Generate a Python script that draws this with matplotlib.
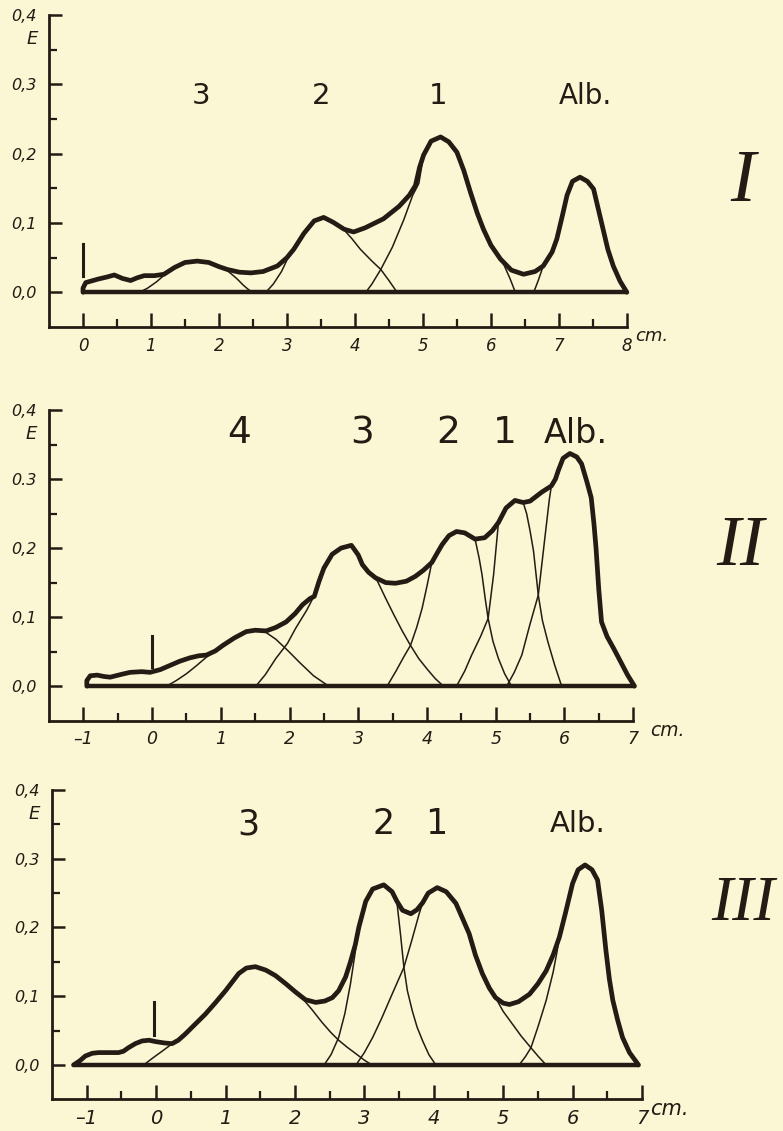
import matplotlib
matplotlib.use("Agg")
import matplotlib.pyplot as plt

BG = "#fbf6d3"
INK = "#241b14"

# ---------- panel I : total curve and components (cm, E) ----------
p1_x = [0.00, 0.00, 0.04, 0.22, 0.35, 0.46, 0.58, 0.70, 0.80, 0.90, 1.05, 1.19, 1.35, 1.50,
        1.68, 1.85, 2.00, 2.12, 2.30, 2.47, 2.65, 2.86, 3.00, 3.10, 3.25, 3.40, 3.54, 3.68,
        3.84, 3.98, 4.15, 4.42, 4.65, 4.80, 4.89, 4.95, 5.01, 5.12, 5.26, 5.38, 5.50, 5.60,
        5.70, 5.80, 5.89, 6.00, 6.14, 6.30, 6.48, 6.65, 6.77, 6.90, 6.97, 7.05, 7.12, 7.20,
        7.31, 7.42, 7.51, 7.58, 7.65, 7.72, 7.80, 7.90, 8.00]
p1_y = [0.000, 0.006, 0.014, 0.019, 0.022, 0.025, 0.020, 0.017, 0.021, 0.024, 0.024, 0.026,
        0.036, 0.043, 0.045, 0.043, 0.037, 0.033, 0.029, 0.028, 0.030, 0.038, 0.050, 0.062,
        0.085, 0.103, 0.108, 0.101, 0.091, 0.087, 0.093, 0.106, 0.124, 0.140, 0.154, 0.180,
        0.198, 0.218, 0.224, 0.217, 0.202, 0.176, 0.144, 0.114, 0.091, 0.068, 0.048, 0.032,
        0.026, 0.030, 0.038, 0.058, 0.077, 0.110, 0.140, 0.160, 0.166, 0.160, 0.149, 0.120,
        0.091, 0.062, 0.038, 0.016, 0.000]

p1_c3_x = [0.83, 0.95, 1.08, 1.21, 1.35, 1.50, 1.68, 1.85, 2.00, 2.10, 2.20, 2.27, 2.35, 2.42, 2.49]
p1_c3_y = [0.000, 0.006, 0.015, 0.026, 0.036, 0.043, 0.045, 0.043, 0.037, 0.033, 0.025, 0.019, 0.011, 0.005, 0.000]
p1_c2_x = [2.69, 2.80, 2.92, 3.05, 3.25, 3.40, 3.54, 3.68, 3.84, 3.95, 4.08, 4.25, 4.38, 4.50, 4.62]
p1_c2_y = [0.000, 0.012, 0.030, 0.057, 0.085, 0.103, 0.108, 0.101, 0.090, 0.078, 0.062, 0.045, 0.033, 0.017, 0.000]
p1_c1_x = [4.16, 4.25, 4.38, 4.55, 4.72, 4.85, 4.94, 5.01, 5.12, 5.26, 5.38, 5.50, 5.60, 5.70,
           5.80, 5.89, 6.00, 6.10, 6.19, 6.28, 6.36]
p1_c1_y = [0.000, 0.012, 0.033, 0.065, 0.105, 0.140, 0.157, 0.198, 0.218, 0.224, 0.217, 0.202,
           0.176, 0.144, 0.114, 0.091, 0.068, 0.052, 0.040, 0.020, 0.000]
p1_ca_x = [6.63, 6.70, 6.77, 6.90, 6.97, 7.05, 7.12, 7.20, 7.31, 7.42, 7.51, 7.58, 7.65, 7.72, 7.80, 7.90, 8.00]
p1_ca_y = [0.000, 0.018, 0.038, 0.058, 0.077, 0.110, 0.140, 0.160, 0.166, 0.160, 0.149, 0.120,
           0.091, 0.062, 0.038, 0.016, 0.000]

p1_labels = ["3", "2", "1", "Alb."]
p1_label_x = [1.73, 3.50, 5.23, 7.39]
p1_start = [0.0, 0.024, 0.070]

# ---------- panel II ----------
p2_x = [-0.95, -0.95, -0.90, -0.80, -0.70, -0.61, -0.45, -0.32, -0.15, -0.03, 0.12, 0.26, 0.40,
        0.55, 0.68, 0.79, 0.92, 1.03, 1.20, 1.37, 1.50, 1.66, 1.80, 1.95, 2.08, 2.19, 2.30,
        2.36, 2.43, 2.50, 2.62, 2.75, 2.90, 3.00, 3.06, 3.15, 3.25, 3.40, 3.54, 3.70, 3.83,
        3.95, 4.07, 4.15, 4.22, 4.32, 4.43, 4.55, 4.70, 4.84, 4.95, 5.04, 5.15, 5.28, 5.40,
        5.50, 5.67, 5.81, 5.87, 5.91, 5.98, 6.08, 6.18, 6.25, 6.33, 6.39, 6.43, 6.46, 6.50,
        6.54, 6.62, 6.72, 6.82, 6.92, 7.02]
p2_y = [0.000, 0.008, 0.015, 0.016, 0.014, 0.013, 0.017, 0.020, 0.021, 0.020, 0.024, 0.030,
        0.036, 0.041, 0.044, 0.045, 0.051, 0.059, 0.070, 0.079, 0.081, 0.080, 0.085, 0.093,
        0.105, 0.118, 0.127, 0.130, 0.152, 0.171, 0.191, 0.200, 0.204, 0.190, 0.176, 0.165,
        0.157, 0.150, 0.149, 0.152, 0.159, 0.168, 0.179, 0.193, 0.205, 0.218, 0.224, 0.222,
        0.213, 0.215, 0.225, 0.237, 0.258, 0.269, 0.266, 0.268, 0.281, 0.290, 0.300, 0.312,
        0.330, 0.337, 0.332, 0.322, 0.295, 0.273, 0.235, 0.200, 0.140, 0.093, 0.072, 0.054,
        0.035, 0.016, 0.000]

p2_c4_x = [0.21, 0.35, 0.50, 0.65, 0.79, 0.92, 1.03, 1.20, 1.37, 1.50, 1.64, 1.80, 1.97, 2.15, 2.35, 2.57]
p2_c4_y = [0.000, 0.008, 0.018, 0.030, 0.042, 0.051, 0.059, 0.070, 0.079, 0.081, 0.079, 0.068,
           0.052, 0.034, 0.015, 0.000]
p2_c3_x = [1.51, 1.65, 1.80, 1.97, 2.09, 2.25, 2.38, 2.43, 2.50, 2.62, 2.75, 2.90, 3.00, 3.06,
           3.15, 3.28, 3.40, 3.52, 3.64, 3.76, 3.88, 4.00, 4.12, 4.24]
p2_c3_y = [0.000, 0.017, 0.040, 0.062, 0.084, 0.110, 0.135, 0.152, 0.171, 0.191, 0.200, 0.204,
           0.190, 0.176, 0.165, 0.152, 0.127, 0.103, 0.080, 0.059, 0.040, 0.025, 0.011, 0.000]
p2_c2_x = [3.42, 3.55, 3.66, 3.76, 3.85, 3.93, 4.00, 4.07, 4.15, 4.22, 4.32, 4.43, 4.55, 4.70,
           4.76, 4.80, 4.85, 4.89, 4.96, 5.04, 5.13, 5.23]
p2_c2_y = [0.000, 0.022, 0.042, 0.059, 0.085, 0.113, 0.145, 0.179, 0.193, 0.205, 0.218, 0.224,
           0.222, 0.213, 0.185, 0.162, 0.125, 0.098, 0.065, 0.040, 0.018, 0.000]
p2_c1_x = [4.43, 4.55, 4.65, 4.78, 4.89, 4.97, 5.04, 5.15, 5.28, 5.40, 5.45, 5.50, 5.55, 5.62,
           5.68, 5.76, 5.86, 5.96]
p2_c1_y = [0.000, 0.022, 0.045, 0.072, 0.098, 0.162, 0.237, 0.258, 0.269, 0.266, 0.250, 0.225,
           0.196, 0.132, 0.095, 0.064, 0.030, 0.000]
p2_ca_x = [5.16, 5.27, 5.38, 5.50, 5.62, 5.71, 5.78, 5.81, 5.87, 5.91, 5.98, 6.08, 6.18, 6.25,
           6.33, 6.39, 6.43, 6.46, 6.50, 6.54, 6.62, 6.72, 6.82, 6.92, 7.02]
p2_ca_y = [0.000, 0.020, 0.045, 0.090, 0.132, 0.210, 0.270, 0.290, 0.300, 0.312, 0.330, 0.337,
           0.332, 0.322, 0.295, 0.273, 0.235, 0.200, 0.140, 0.093, 0.072, 0.054, 0.035, 0.016, 0.000]

p2_labels = ["4", "3", "2", "1", "Alb."]
p2_label_x = [1.27, 3.06, 4.31, 5.13, 6.17]
p2_start = [0.0, 0.028, 0.072]

# ---------- panel III ----------
p3_x = [-1.19, -1.10, -1.02, -0.92, -0.83, -0.70, -0.54, -0.47, -0.40, -0.30, -0.20, -0.10,
        -0.01, 0.12, 0.23, 0.32, 0.42, 0.55, 0.71, 0.85, 1.00, 1.19, 1.30, 1.43, 1.58, 1.72,
        1.87, 2.01, 2.15, 2.30, 2.43, 2.54, 2.63, 2.73, 2.80, 2.87, 2.92, 3.02, 3.12, 3.28,
        3.40, 3.47, 3.55, 3.67, 3.76, 3.84, 3.92, 4.05, 4.18, 4.32, 4.42, 4.51, 4.60, 4.70,
        4.80, 4.89, 5.00, 5.09, 5.22, 5.38, 5.50, 5.62, 5.72, 5.81, 5.90, 6.00, 6.08, 6.18,
        6.28, 6.36, 6.42, 6.48, 6.53, 6.58, 6.65, 6.72, 6.82, 6.95]
p3_y = [0.000, 0.006, 0.013, 0.017, 0.018, 0.018, 0.018, 0.020, 0.025, 0.031, 0.035, 0.036,
        0.034, 0.032, 0.031, 0.036, 0.045, 0.058, 0.074, 0.090, 0.108, 0.133, 0.141, 0.143,
        0.138, 0.130, 0.118, 0.106, 0.095, 0.091, 0.093, 0.098, 0.108, 0.128, 0.150, 0.175,
        0.200, 0.238, 0.256, 0.262, 0.252, 0.238, 0.225, 0.220, 0.226, 0.236, 0.250, 0.258,
        0.252, 0.235, 0.212, 0.191, 0.160, 0.133, 0.112, 0.098, 0.090, 0.088, 0.092, 0.103,
        0.118, 0.137, 0.160, 0.186, 0.222, 0.264, 0.284, 0.291, 0.284, 0.269, 0.225, 0.167,
        0.125, 0.094, 0.065, 0.040, 0.018, 0.000]

p3_c3_x = [-0.18, -0.05, 0.10, 0.22, 0.32, 0.42, 0.55, 0.71, 0.85, 1.00, 1.19, 1.30, 1.43, 1.58,
           1.72, 1.87, 2.01, 2.10, 2.25, 2.39, 2.52, 2.63, 2.75, 2.87, 3.00, 3.11]
p3_c3_y = [0.000, 0.010, 0.021, 0.030, 0.036, 0.045, 0.058, 0.074, 0.090, 0.108, 0.133, 0.141,
           0.143, 0.138, 0.130, 0.118, 0.106, 0.098, 0.080, 0.062, 0.047, 0.036, 0.026, 0.017,
           0.007, 0.000]
p3_c2_x = [2.42, 2.52, 2.63, 2.72, 2.80, 2.87, 2.92, 3.02, 3.12, 3.28, 3.40, 3.47, 3.52, 3.57,
           3.62, 3.69, 3.76, 3.84, 3.93, 4.03]
p3_c2_y = [0.000, 0.015, 0.040, 0.075, 0.118, 0.165, 0.200, 0.238, 0.256, 0.262, 0.252, 0.236,
           0.191, 0.142, 0.108, 0.079, 0.055, 0.035, 0.015, 0.000]
p3_c1_x = [2.88, 3.00, 3.12, 3.25, 3.40, 3.57, 3.68, 3.79, 3.84, 3.92, 4.05, 4.18, 4.32, 4.42,
           4.51, 4.60, 4.70, 4.80, 4.89, 5.00, 5.13, 5.26, 5.40, 5.51, 5.62]
p3_c1_y = [0.000, 0.018, 0.040, 0.068, 0.103, 0.142, 0.180, 0.220, 0.236, 0.250, 0.258, 0.252,
           0.235, 0.212, 0.191, 0.160, 0.133, 0.112, 0.098, 0.078, 0.060, 0.042, 0.025, 0.012, 0.000]
p3_ca_x = [5.23, 5.32, 5.40, 5.50, 5.62, 5.72, 5.78, 5.81, 5.90, 6.00, 6.08, 6.18, 6.28, 6.36,
           6.42, 6.48, 6.53, 6.58, 6.65, 6.72, 6.82, 6.95]
p3_ca_y = [0.000, 0.012, 0.025, 0.055, 0.094, 0.135, 0.167, 0.186, 0.222, 0.264, 0.284, 0.291,
           0.284, 0.269, 0.225, 0.167, 0.125, 0.094, 0.065, 0.040, 0.018, 0.000]

p3_labels = ["3", "2", "1", "Alb."]
p3_label_x = [1.33, 3.27, 4.03, 6.07]
p3_start = [-0.03, 0.043, 0.091]

y_ticks = [0.0, 0.1, 0.2, 0.3, 0.4]
y_minor = [0.05, 0.15, 0.25, 0.35]


def draw_panel(ax, xlim, xticks, curve, comps, labels, label_x, label_y, label_size,
               alb_size, start, ylabels, unit, unit_x, xl_size):
    ax.set_facecolor(BG)
    ax.set_xlim(*xlim)
    ax.set_ylim(-0.05, 0.4)
    for sp in ["top", "right"]:
        ax.spines[sp].set_visible(False)
    for sp in ["left", "bottom"]:
        ax.spines[sp].set_linewidth(2.0)
        ax.spines[sp].set_color(INK)

    ax.set_yticks(y_ticks)
    ax.set_yticklabels(ylabels, fontstyle="italic", fontsize=11.5, color=INK)
    ax.set_yticks(y_minor, minor=True)
    minor_x = [t + 0.5 for t in xticks[:-1]]
    ax.set_xticks(xticks)
    ax.set_xticklabels([str(t).replace("-", "\u2013") for t in xticks],
                       fontstyle="italic", fontsize=xl_size, color=INK)
    ax.set_xticks(minor_x, minor=True)
    ax.tick_params(which="major", direction="in", length=10, width=1.8, color=INK, pad=7)
    ax.tick_params(which="minor", direction="in", length=6, width=1.6, color=INK)
    ax.tick_params(axis="y", which="major", length=9, pad=9)

    # components (thin) then the measured curve (thick)
    for cx, cy in comps:
        ax.plot(cx, cy, color=INK, lw=1.1, clip_on=False, solid_capstyle="round")
    cx, cy = curve
    ax.plot([cx[0], cx[-1]], [0, 0], color=INK, lw=3.2, solid_capstyle="butt", clip_on=False)
    ax.plot(cx, cy, color=INK, lw=3.4, solid_joinstyle="round", solid_capstyle="round",
            clip_on=False)
    ax.plot([start[0], start[0]], [start[1], start[2]], color=INK, lw=2.2)

    for t, x in zip(labels, label_x):
        size = alb_size if t == "Alb." else label_size
        ax.text(x, label_y, t, ha="center", va="center", fontsize=size, color=INK,
                family="DejaVu Sans")

    ax.text(-0.02, 0.365, "E", transform=ax.get_yaxis_transform(), ha="right",
            va="center", fontstyle="italic", fontsize=13, color=INK)
    ax.text(unit_x, -0.05, unit, transform=ax.transData, ha="left", va="top",
            fontstyle="italic", fontsize=xl_size + 1, color=INK)


fig = plt.figure(figsize=(7.83, 11.31), dpi=100)
fig.patch.set_facecolor(BG)

ax1 = fig.add_axes([0.0626, 0.7109, 0.738, 0.2759])
draw_panel(ax1, (-0.5, 8), list(range(0, 9)), (p1_x, p1_y),
           [(p1_c3_x, p1_c3_y), (p1_c2_x, p1_c2_y), (p1_c1_x, p1_c1_y), (p1_ca_x, p1_ca_y)],
           p1_labels, p1_label_x, 0.283, 21, 20, p1_start,
           ["0,0", "0,1", "0,2", "0,3", "0,4"], "cm.", 8.12, 12)

ax2 = fig.add_axes([0.0626, 0.3628, 0.746, 0.2747])
draw_panel(ax2, (-1.5, 7), list(range(-1, 8)), (p2_x, p2_y),
           [(p2_c4_x, p2_c4_y), (p2_c3_x, p2_c3_y), (p2_c2_x, p2_c2_y), (p2_c1_x, p2_c1_y),
            (p2_ca_x, p2_ca_y)],
           p2_labels, p2_label_x, 0.366, 27, 24, p2_start,
           ["0,0", "0,1", "0,2", "0.3", "0,4"], "cm.", 7.25, 12.5)

ax3 = fig.add_axes([0.0664, 0.028, 0.7535, 0.2735])
draw_panel(ax3, (-1.5, 7), list(range(-1, 8)), (p3_x, p3_y),
           [(p3_c3_x, p3_c3_y), (p3_c2_x, p3_c2_y), (p3_c1_x, p3_c1_y), (p3_ca_x, p3_ca_y)],
           p3_labels, p3_label_x, 0.35, 25, 21, p3_start,
           ["0,0", "0,1", "0,2", "0,3", "0,4"], "cm.", 7.12, 14)

for txt, fx, fy, fs in [("I", 0.949, 0.838, 54), ("II", 0.946, 0.5155, 52), ("III", 0.949, 0.200, 46)]:
    fig.text(fx, fy, txt, ha="center", va="center", fontsize=fs, color=INK,
             family="Liberation Serif", fontstyle="italic")

fig.savefig("out.png", dpi=100, facecolor=BG)
